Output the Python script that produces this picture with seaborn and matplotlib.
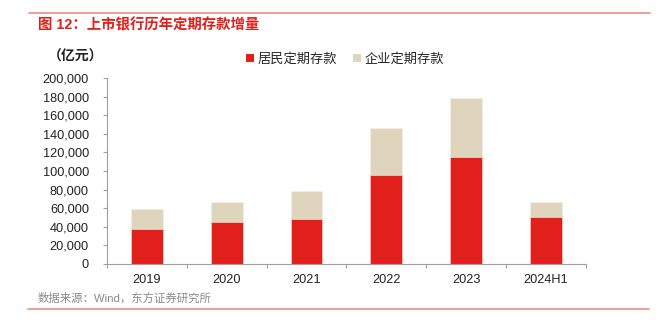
import matplotlib
matplotlib.use("Agg")
import matplotlib.pyplot as plt
import seaborn as sns
import pandas as pd
from matplotlib.patches import Patch
from matplotlib.lines import Line2D
from matplotlib.ticker import FuncFormatter

years = ["2019", "2020", "2021", "2022", "2023", "2024H1"]
household = [37500, 45000, 48900, 96100, 114600, 50000]
corporate = [21800, 22100, 30000, 50300, 64300, 17100]
series_names = ["居民定期存款", "企业定期存款"]
title = "图 12：上市银行历年定期存款增量"
unit = "（亿元）"
source = "数据来源：Wind，东方证券研究所"

RED = "#E2201B"
BEIGE = "#DFD5BD"
FONTS = ["Liberation Sans", "Noto Sans CJK SC"]

sns.set_theme(style="white")
plt.rcParams["font.family"] = FONTS

df = pd.DataFrame({"year": years, "household": household, "corporate": corporate})
df["total"] = df["household"] + df["corporate"]

fig = plt.figure(figsize=(6.62, 3.26), dpi=100)
ax = fig.add_axes([0.1616, 0.1902, 0.7234, 0.5705])

sns.barplot(data=df, x="year", y="total", color=BEIGE, width=0.4, ax=ax,
            edgecolor="#F3EEE2", linewidth=0.6, saturation=1)
sns.barplot(data=df, x="year", y="household", color=RED, width=0.4, ax=ax,
            edgecolor="#F0C8C0", linewidth=0.6, saturation=1)

ax.set_ylim(0, 200000)
ax.set_xlim(-0.5, len(years) - 0.5)
ax.set_yticks(range(0, 200001, 20000))
ax.yaxis.set_major_formatter(FuncFormatter(lambda v, p: f"{int(v):,}"))
ax.set_xlabel("")
ax.set_ylabel("")

for s in ["top", "right"]:
    ax.spines[s].set_visible(False)
for s in ["left", "bottom"]:
    ax.spines[s].set_color("#A0A0A0")
    ax.spines[s].set_linewidth(0.8)

ax.tick_params(axis="y", which="major", direction="out", length=3, width=0.8,
               color="#A0A0A0", labelsize=9.2, labelcolor="#222222", pad=10, left=True)
ax.tick_params(axis="x", which="major", length=0, labelsize=9.2, labelcolor="#222222", pad=7)
ax.set_xticks(range(len(years)))
ax.set_xticklabels(years)
ax.set_xticks([i - 0.5 for i in range(len(years) + 1)], minor=True)
ax.tick_params(axis="x", which="minor", direction="out", length=3, width=0.8,
               color="#A0A0A0", bottom=True)

handles = [Patch(facecolor=RED, edgecolor="none"), Patch(facecolor=BEIGE, edgecolor="none")]
fig.legend(handles, series_names, loc="center", bbox_to_anchor=(345 / 662, 1 - 59 / 326),
           ncol=2, frameon=False, handlelength=0.6, handleheight=0.6,
           handletextpad=0.3, columnspacing=1.2, prop={"family": FONTS, "size": 9.5})

fig.text(38 / 662, 1 - 25 / 326, title, color="#E2201B", fontsize=10.4, fontweight="bold",
         ha="left", va="center", family=FONTS)
fig.text(48 / 662, 1 - 57 / 326, unit, color="#222222", fontsize=10, fontweight="bold",
         ha="left", va="center", family=FONTS)
fig.text(38 / 662, 1 - 298 / 326, source, color="#8A8A8A", fontsize=8.2,
         ha="left", va="center", family=FONTS)

fig.add_artist(Line2D([29 / 662, 650 / 662], [1 - 13 / 326, 1 - 13 / 326],
                      color="#F08C86", linewidth=1.2, transform=fig.transFigure))
fig.add_artist(Line2D([28 / 662, 649 / 662], [1 - 309 / 326, 1 - 309 / 326],
                      color="#F08C86", linewidth=1.2, transform=fig.transFigure))

fig.savefig("out.png", dpi=100)
